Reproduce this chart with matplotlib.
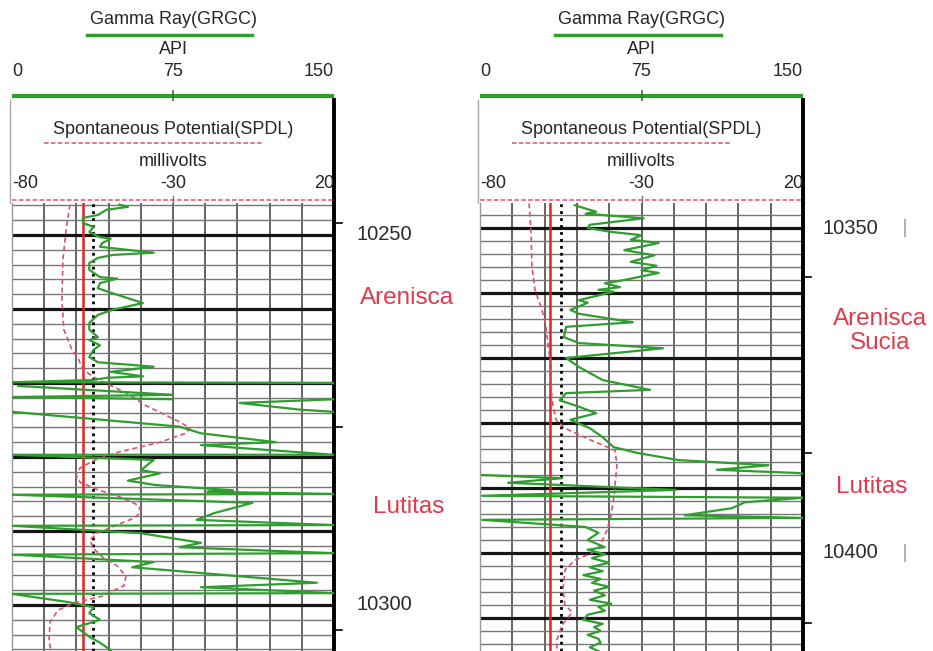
import numpy as np
import matplotlib.pyplot as plt
from matplotlib.transforms import blended_transform_factory

W, H = 933, 651

# scales printed in the headers
gr_scale = [0, 75, 150]
sp_scale = [-80, -30, 20]

# ---- left log (10246 - 10306 ft) ----
left_gr_depth = [10245.9, 10246.2, 10246.6, 10247.3, 10247.7, 10248.4, 10248.9, 10249.6,
                 10250.3, 10250.5, 10251.1, 10251.6, 10252.4, 10252.7, 10253.1, 10253.8,
                 10254.7, 10255.7, 10255.9, 10256.5, 10257.2, 10257.8, 10259.2, 10260.1,
                 10260.8, 10261.9, 10262.8, 10263.8, 10264.2, 10264.9, 10265.5, 10266.5,
                 10267.2, 10267.8, 10268.5, 10269.1, 10269.3, 10269.6, 10269.9, 10270.0,
                 10270.2, 10270.4, 10271.6, 10271.9, 10272.2, 10272.2, 10272.2, 10272.7,
                 10273.6, 10273.9, 10273.9, 10273.9, 10275.9, 10276.8, 10278.0, 10278.4,
                 10279.7, 10279.7, 10280.4, 10281.8, 10282.2, 10283.2, 10283.8, 10284.5,
                 10284.7, 10285.0, 10285.1, 10286.2, 10286.9, 10287.6, 10288.5, 10289.2,
                 10289.3, 10290.3, 10291.6, 10292.2, 10293.0, 10293.2, 10294.2, 10294.9,
                 10297.0, 10297.6, 10298.4, 10298.5, 10299.6, 10300.3, 10301.1, 10302.0,
                 10303.0, 10304.3, 10305.1, 10306.1]
left_gr_api = [50, 54, 44, 40, 33, 33, 38, 36,
               41, 46, 42, 41, 66, 47, 40, 36,
               36, 41, 49, 41, 40, 46, 61, 47,
               40, 36, 36, 40, 36, 41, 38, 36,
               40, 66, 46, 61, 44, 38, 0, 150,
               np.nan, 3, 75, 0, 75, np.nan, 150, 106,
               134, 150, np.nan, 0, 78, 88, 123, 88,
               150, 0, 66, 60, 69, 54, 67, 103,
               91, 150, 0, 112, 103, 94, 86, 150,
               0, 60, 88, 78, 150, 0, 66, 56,
               142, 88, 150, 0, 26, 38, 36, 41,
               30, 36, 41, 46]
left_sp_depth = [10245.9, 10249.3, 10253.4, 10258.8, 10262.8, 10264.2, 10265.5, 10266.6,
                 10268.2, 10269.3, 10270.3, 10271.6, 10273.0, 10274.3, 10275.3, 10276.1,
                 10276.8, 10278.0, 10279.3, 10280.4, 10281.5, 10282.4, 10283.4, 10284.3,
                 10285.4, 10286.5, 10287.4, 10288.2, 10289.3, 10290.3, 10291.2, 10292.3,
                 10293.5, 10294.7, 10296.1, 10297.4, 10298.8, 10299.7, 10300.7, 10302.3,
                 10304.7, 10306.2]
left_sp_mv = [-62.0, -63.2, -64.2, -64.5, -63.9, -62.6, -61.4, -59.5,
              -58.0, -54.2, -49.6, -43.4, -38.7, -32.5, -27.8, -24.7,
              -26.0, -34.0, -46.5, -54.2, -58.9, -60.1, -58.9, -54.2,
              -46.5, -40.9, -39.9, -41.8, -48.0, -53.6, -55.8, -54.8,
              -52.0, -47.4, -44.6, -45.2, -52.0, -60.4, -65.7, -68.2,
              -68.5, -67.9]
left_sp_lines = [-58.0, -54.8]          # red solid / black dotted baselines
left_depth_labels = [10250, 10300]
left_depth_marks = [10248.4, 10276.0, 10303.4]
left_zones = ["Arenisca", "Lutitas"]
left_zone_depths = [10258.5, 10286.8]

# ---- right log (10346 - 10415 ft) ----
right_gr_depth = [10346.5, 10347.5, 10347.8, 10348.5, 10349.5, 10350.0, 10350.6, 10351.1,
                  10351.8, 10352.3, 10353.4, 10354.2, 10355.2, 10355.8, 10356.5, 10356.9,
                  10358.0, 10358.5, 10359.1, 10359.5, 10359.8, 10361.1, 10361.5, 10362.6,
                  10363.2, 10364.5, 10365.2, 10366.8, 10367.7, 10368.5, 10370.0, 10371.4,
                  10373.4, 10374.9, 10375.4, 10376.5, 10377.5, 10378.5, 10379.5, 10380.8,
                  10382.2, 10383.7, 10384.6, 10385.7, 10386.5, 10387.2, 10387.7, 10387.8,
                  10387.9, 10388.0, 10388.5, 10389.2, 10389.5, 10390.3, 10391.2, 10391.5,
                  10392.2, 10393.1, 10394.2, 10394.6, 10394.9, 10396.0, 10396.9, 10398.0,
                  10399.1, 10399.5, 10400.2, 10400.8, 10401.5, 10402.2, 10402.8, 10403.4,
                  10404.0, 10404.6, 10405.2, 10405.8, 10406.5, 10407.2, 10407.8, 10408.3,
                  10408.9, 10409.5, 10410.3, 10410.9, 10411.4, 10412.0, 10412.6, 10413.2,
                  10413.8, 10414.5, 10415.1]
right_gr_api = [44, 54, 49, 76, 51, 50, 61, 75,
                70, 83, 67, 81, 70, 82, 75, 83,
                67, 58, 65, 55, 62, 46, 50, 42,
                46, 71, 40, 39, 46, 85, 40, 46,
                57, 79, 40, 37, 46, 54, 42, 51,
                57, 62, 73, 92, 134, 110, 148, 150,
                np.nan, 1, 38, 13, 35, 91, 1, 150,
                123, 117, 95, 150, 1, 49, 55, 50,
                58, 50, 58, 52, 60, 51, 57, 48,
                56, 52, 60, 53, 58, 51, 61, 55,
                58, 50, 48, 57, 53, 56, 50, 55,
                56, 51, 55]
right_sp_depth = [10346.2, 10350.8, 10356.0, 10359.5, 10362.2, 10364.2, 10370.3, 10376.5,
                  10379.5, 10380.8, 10382.6, 10384.2, 10386.5, 10391.1, 10394.2, 10396.5,
                  10398.8, 10400.0, 10401.1, 10402.6, 10405.7, 10408.0, 10409.1, 10410.0,
                  10411.1, 10413.4, 10415.1]
right_sp_mv = [-64.8, -64.2, -63.9, -63.0, -61.1, -59.9, -58.3, -57.7,
               -56.5, -53.7, -45.9, -38.2, -37.6, -38.5, -39.4, -40.7,
               -42.8, -45.3, -50.6, -53.7, -54.3, -53.7, -51.5, -52.8,
               -54.6, -56.2, -56.2]
right_sp_lines = [-58.3, -54.9]
right_depth_labels = [10350, 10400]
right_depth_marks = [10357.5, 10384.6, 10410.8]
right_zones = ["Arenisca\nSucia", "Lutitas"]
right_zone_depths = [10365.8, 10389.8]

GREEN = '#2f9e2f'
ZONE_RED = '#e23a4c'
NARROW = ['Liberation Sans Narrow', 'Liberation Sans', 'DejaVu Sans']
SANS = ['Liberation Sans', 'DejaVu Sans']


def rect(x0, y0, x1, y1):
    return [x0 / W, 1 - y1 / H, (x1 - x0) / W, (y1 - y0) / H]


def header(fig, x0, x1):
    hx = fig.add_axes(rect(x0, 0, x1, 203))
    hx.set_xlim(0, 150)
    hx.set_ylim(203, 0)
    hx.axis('off')
    hs = hx.twiny()
    hs.set_xlim(-80, 20)
    hs.axis('off')

    kw = dict(ha='center', va='center', fontsize=13, family=NARROW, color='#262626')
    hx.text(75, 20, 'Gamma Ray(GRGC)', **kw)
    hx.plot([35, 112], [35, 35], color=GREEN, lw=2.5, clip_on=False)
    hx.text(75, 50, 'API', **kw)
    for v, ha in zip(gr_scale, ['left', 'center', 'right']):
        hx.text(v, 72, str(v), **{**kw, 'ha': ha})
    hx.plot([0, 150], [96, 96], color=GREEN, lw=3, clip_on=False, solid_capstyle='butt')
    hx.plot([75, 75], [91, 100], color='#3a6a3a', lw=1.2, clip_on=False)
    hx.plot([-0.8, -0.8], [100, 203], color='#aaaaaa', lw=1, clip_on=False)
    hx.plot([150, 150], [100, 203], color='k', lw=2.8, clip_on=False)

    hs.text(-30, 130, 'Spontaneous Potential(SPDL)', **kw)
    hs.plot([-70, -2], [143, 143], color='#d9546b', lw=1.1, ls=(0, (3, 1.5)), clip_on=False)
    hs.text(-30, 162, 'millivolts', **kw)
    for v, ha in zip(sp_scale, ['left', 'center', 'right']):
        hs.text(v, 184, str(v), **{**kw, 'ha': ha})
    hs.plot([-80, 20], [200, 200], color='#d9546b', lw=1.1, ls=(0, (3, 1.5)), clip_on=False)
    hs.plot([-30, -30], [196, 204], color='#777777', lw=1, clip_on=False)


def track(fig, x0, x1, top, bot, gr_d, gr_v, sp_d, sp_v, sp_lines,
          labels, marks, zones, zone_depths, label_x, zone_x, bars):
    ax = fig.add_axes(rect(x0, 203, x1, 651))
    ax.set_xlim(0, 150)
    ax.set_ylim(bot, top)
    ax.set_xticks(np.arange(0, 151, 15))
    ax.set_yticks(np.arange(np.ceil(top / 10) * 10, bot, 10))
    ax.set_yticks(np.arange(np.ceil(top / 2) * 2, bot, 2), minor=True)
    ax.tick_params(which='both', length=0, labelleft=False, labelbottom=False)
    ax.grid(axis='x', color='#4a4a4a', lw=1.2)
    ax.grid(axis='y', which='major', color='#151515', lw=2.3)
    ax.grid(axis='y', which='minor', color='#777777', lw=1.0)
    for s in ['top', 'bottom']:
        ax.spines[s].set_visible(False)
    ax.spines['left'].set_color('#999999')
    ax.spines['left'].set_linewidth(1)
    ax.spines['right'].set_color('k')
    ax.spines['right'].set_linewidth(2.8)

    sp = ax.twiny()
    sp.set_xlim(-80, 20)
    sp.axis('off')
    sp.axvline(sp_lines[0], color='#e02424', lw=1.8)
    sp.axvline(sp_lines[1], color='k', lw=2, ls=(0, (1, 1.5)))
    sp.plot(sp_v, sp_d, color='#d9546b', lw=1.2, ls=(0, (3, 2)))

    gr = ax.twiny()
    gr.set_xlim(0, 150)
    gr.axis('off')
    gr.plot(gr_v, gr_d, color=GREEN, lw=1.6)

    tr = blended_transform_factory(ax.transAxes, ax.transData)
    for d in marks:
        ax.plot([1.0, 1.025], [d, d], color='k', lw=1.2, transform=tr, clip_on=False)
    for d in labels:
        ax.text(label_x, d, str(d), transform=tr, ha='left', va='center',
                fontsize=14.5, family=SANS, color='#2a2a2a')
        if bars:
            ax.text(1.316, d, '|', transform=tr, ha='center', va='center',
                    fontsize=13, color='#999999')
    for z, d, zx in zip(zones, zone_depths, zone_x):
        ax.text(zx, d, z, transform=tr, ha='center', va='center', fontsize=17.5,
                family=SANS, color=ZONE_RED, linespacing=1.1)


fig = plt.figure(figsize=(W / 100, H / 100), dpi=100)
fig.patch.set_facecolor('white')

header(fig, 12, 334)
track(fig, 12, 334, 10245.68, 10306.22, left_gr_depth, left_gr_api,
      left_sp_depth, left_sp_mv, left_sp_lines, left_depth_labels,
      left_depth_marks, left_zones, left_zone_depths, 1.071, [1.227, 1.233], False)

header(fig, 480, 803)
track(fig, 480, 803, 10346.15, 10415.08, right_gr_depth, right_gr_api,
      right_sp_depth, right_sp_mv, right_sp_lines, right_depth_labels,
      right_depth_marks, right_zones, right_zone_depths, 1.059, [1.238, 1.214], True)

fig.savefig('out.png', dpi=100)
